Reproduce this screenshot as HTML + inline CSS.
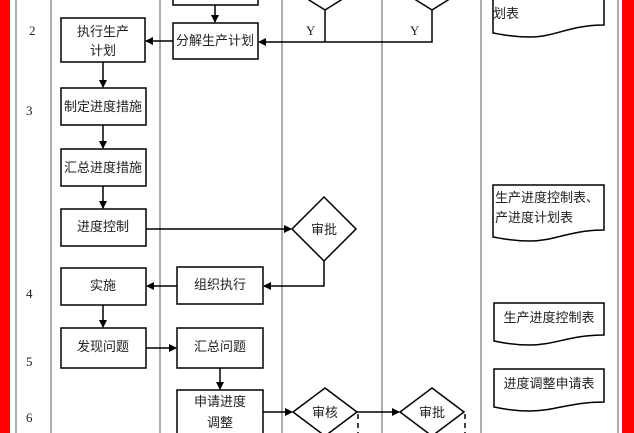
<!DOCTYPE html>
<html><head><meta charset="utf-8"><style>
html,body{margin:0;padding:0;background:#fff;}
svg{display:block;}
text{font-family:"Liberation Sans","Noto Sans CJK SC",sans-serif;font-size:13px;fill:#222;}
.n{font-family:"Liberation Serif",serif;font-size:13px;}
</style></head><body>
<svg width="634" height="433" viewBox="0 0 634 433" xmlns="http://www.w3.org/2000/svg">
<defs><marker id="a" markerWidth="8" markerHeight="8" refX="7" refY="4" orient="auto" markerUnits="userSpaceOnUse"><path d="M0,0 L8,4 L0,8 z" fill="#000"/></marker></defs>
<rect x="0" y="0" width="10" height="433" fill="#f00"/>
<rect x="622" y="0" width="12" height="433" fill="#f00"/>
<g stroke="#777" stroke-width="1.2">
<line x1="16" y1="0" x2="16" y2="433"/><line x1="51" y1="0" x2="51" y2="433"/>
<line x1="160" y1="0" x2="160" y2="433"/><line x1="282" y1="0" x2="282" y2="433"/>
<line x1="382" y1="0" x2="382" y2="433"/><line x1="481" y1="0" x2="481" y2="433"/>
<line x1="618" y1="0" x2="618" y2="433"/>
</g>
<text class="n" x="29" y="35">2</text><text class="n" x="26" y="115">3</text>
<text class="n" x="26" y="298">4</text><text class="n" x="26" y="366">5</text><text class="n" x="26" y="422">6</text>
<g fill="#fff" stroke="#000" stroke-width="1.5">
<rect x="173" y="-5" width="85" height="10"/>
<rect x="173" y="23" width="85" height="36"/>
<rect x="61" y="18" width="84" height="44"/>
<rect x="61" y="88" width="85" height="37"/>
<rect x="61" y="149" width="85" height="37"/>
<rect x="61" y="209" width="85" height="37"/>
<rect x="61" y="268" width="85" height="37"/>
<rect x="61" y="328" width="85" height="40"/>
<rect x="177" y="267" width="86" height="37"/>
<rect x="177" y="328" width="86" height="40"/>
<rect x="177" y="390" width="86" height="50"/>
<path d="M293,-10 L325,10 L357,-10"/>
<path d="M400,-10 L432,10 L464,-10"/>
<path d="M324,197 L356,229 L324,261 L292,229 z"/>
<path d="M325,388 L357,412 L325,436 L293,412 z"/>
<path d="M432,388 L464,412 L432,436 L400,412 z"/>
<path d="M493,-5 L604,-5 L604,25 C570,25 555,37 530,37 C510,37 500,34 493,33 z"/>
<path d="M493,185 L604,185 L604,230 C570,230 555,241 530,241 C510,241 500,238 493,237 z"/>
<path d="M494,303 L604,303 L604,335 C570,335 555,345 530,345 C510,345 500,342 494,341 z"/>
<path d="M494,369 L604,369 L604,402 C570,402 555,411 530,411 C510,411 500,408 494,407 z"/>
</g>
<g stroke="#000" stroke-width="1.5" fill="none">
<line x1="215" y1="5" x2="215" y2="22" marker-end="url(#a)"/>
<path d="M325,10 L325,42"/><path d="M432,10 L432,42 L259,42" marker-end="url(#a)"/>
<line x1="173" y1="41" x2="146" y2="41" marker-end="url(#a)"/>
<line x1="103" y1="62" x2="103" y2="87" marker-end="url(#a)"/>
<line x1="103" y1="125" x2="103" y2="148" marker-end="url(#a)"/>
<line x1="103" y1="186" x2="103" y2="208" marker-end="url(#a)"/>
<line x1="146" y1="229" x2="291" y2="229" marker-end="url(#a)"/>
<path d="M324,261 L324,286 L264,286" marker-end="url(#a)"/>
<line x1="177" y1="286" x2="147" y2="286" marker-end="url(#a)"/>
<line x1="103" y1="305" x2="103" y2="327" marker-end="url(#a)"/>
<line x1="146" y1="348" x2="176" y2="348" marker-end="url(#a)"/>
<line x1="220" y1="368" x2="220" y2="389" marker-end="url(#a)"/>
<line x1="263" y1="412" x2="292" y2="412" marker-end="url(#a)"/>
<line x1="357" y1="412" x2="399" y2="412" marker-end="url(#a)"/>
<line x1="358" y1="414" x2="358" y2="433" stroke-dasharray="5,4"/>
<line x1="465" y1="414" x2="465" y2="433" stroke-dasharray="5,4"/>
</g>
<text class="n" x="306" y="35">Y</text><text class="n" x="410" y="35">Y</text>
<text x="215" y="45" text-anchor="middle">分解生产计划</text>
<text x="103" y="36" text-anchor="middle">执行生产</text><text x="103" y="55" text-anchor="middle">计划</text>
<text x="103" y="111" text-anchor="middle">制定进度措施</text>
<text x="103" y="172" text-anchor="middle">汇总进度措施</text>
<text x="103" y="231" text-anchor="middle">进度控制</text>
<text x="103" y="290" text-anchor="middle">实施</text>
<text x="103" y="351" text-anchor="middle">发现问题</text>
<text x="220" y="289" text-anchor="middle">组织执行</text>
<text x="220" y="351" text-anchor="middle">汇总问题</text>
<text x="220" y="406" text-anchor="middle">申请进度</text><text x="220" y="427" text-anchor="middle">调整</text>
<text x="324" y="234" text-anchor="middle">审批</text>
<text x="325" y="417" text-anchor="middle">审核</text>
<text x="432" y="417" text-anchor="middle">审批</text>
<text x="493" y="18">划表</text>
<text x="495" y="202">生产进度控制表、</text><text x="495" y="222">产进度计划表</text>
<text x="549" y="322" text-anchor="middle">生产进度控制表</text>
<text x="549" y="388" text-anchor="middle">进度调整申请表</text>
</svg>
</body></html>
